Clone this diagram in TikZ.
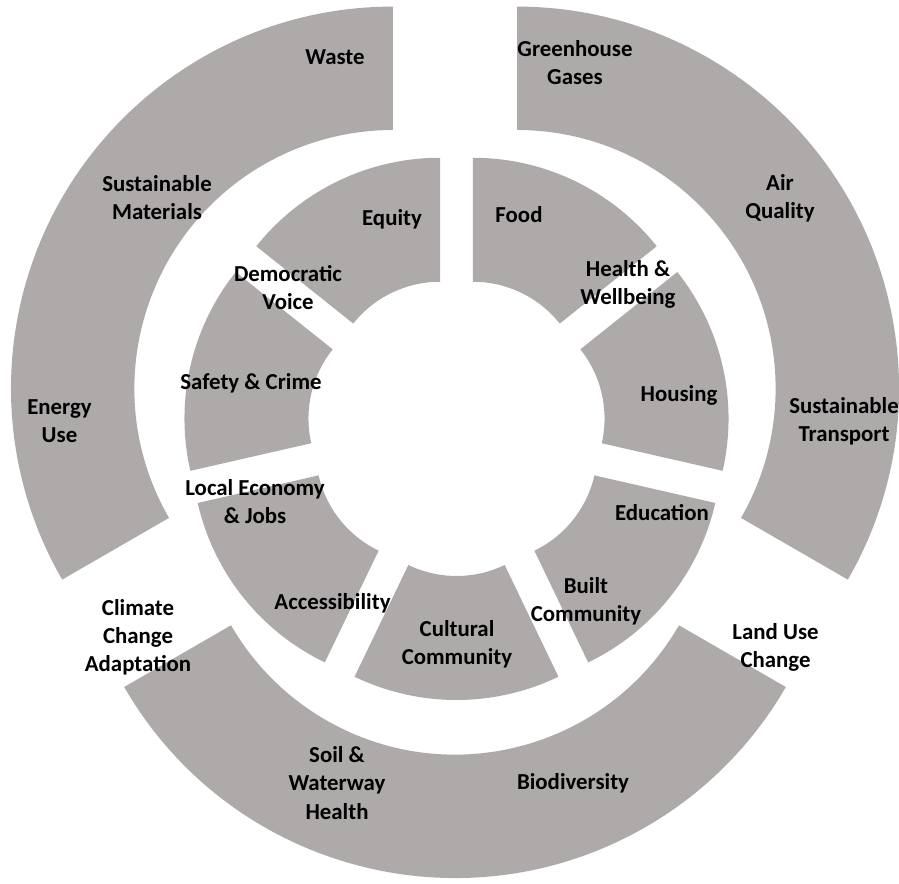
\documentclass[tikz,border=0pt]{standalone}
\usepackage{fontspec}
\setmainfont{Carlito}
\definecolor{ringgray}{RGB}{174,170,170}
\begin{document}
\begin{tikzpicture}[x=0.2mm,y=0.2mm,
    seg/.style={fill=ringgray},
    lbl/.style={font=\bfseries\fontsize{13}{16}\selectfont, align=center, inner sep=0pt, text=black}]
\useasboundingbox (0,0) rectangle (899,883);
\coordinate (outerC) at (455,458.6);
\coordinate (innerC) at (456.5,456);
% outer ring, three pulled-out pieces
\begin{scope}[shift={(outerC)}]
  \foreach \m in {30,150,270}
    \fill[seg, shift={(\m:71.6)}] (\m-60:382) arc[start angle=\m-60, end angle=\m+60, radius=382]
      -- (\m+60:258.6) arc[start angle=\m+60, end angle=\m-60, radius=258.6] -- cycle;
\end{scope}
% inner ring, seven pieces
\begin{scope}[shift={(innerC)}]
  \foreach \k in {0,...,6}{
    \pgfmathsetmacro\m{115.714+51.4286*\k}
    \fill[seg, shift={(\m:38)}] (\m-25.714:235) arc[start angle=\m-25.714, end angle=\m+25.714, radius=235]
      -- (\m+25.714:111) arc[start angle=\m+25.714, end angle=\m-25.714, radius=111] -- cycle;
  }
\end{scope}
% outer labels
\node[lbl] (waste) at (335,826) {Waste};
\node[lbl] (greenhouse) at (575,820.5) {Greenhouse\\Gases};
\node[lbl] (sustmat) at (157,685) {Sustainable\\Materials};
\node[lbl] (airqual) at (780,685) {Air\\Quality};
\node[lbl] (energy) at (59.5,462) {Energy\\Use};
\node[lbl] (transport) at (844,462) {Sustainable\\Transport};
\node[lbl] (climate) at (138,246) {Climate\\Change\\Adaptation};
\node[lbl] (landuse) at (775.5,236) {Land Use\\Change};
\node[lbl] (soil) at (337,100) {Soil \&\\Waterway\\Health};
\node[lbl] (biodiv) at (573,100) {Biodiversity};
% inner labels
\node[lbl] (equity) at (392,664) {Equity};
\node[lbl] (food) at (519,668) {Food};
\node[lbl] (democratic) at (288,595) {Democratic\\Voice};
\node[lbl] (health) at (628,599) {Health \&\\Wellbeing};
\node[lbl] (safety) at (251,500) {Safety \& Crime};
\node[lbl] (housing) at (679,488) {Housing};
\node[lbl] (localecon) at (255,381) {Local Economy\\\& Jobs};
\node[lbl] (education) at (662,370) {Education};
\node[lbl] (access) at (332.5,280) {Accessibility};
\node[lbl] (built) at (586,282) {Built\\Community};
\node[lbl] (cultural) at (457,239) {Cultural\\Community};
\end{tikzpicture}
\end{document}
